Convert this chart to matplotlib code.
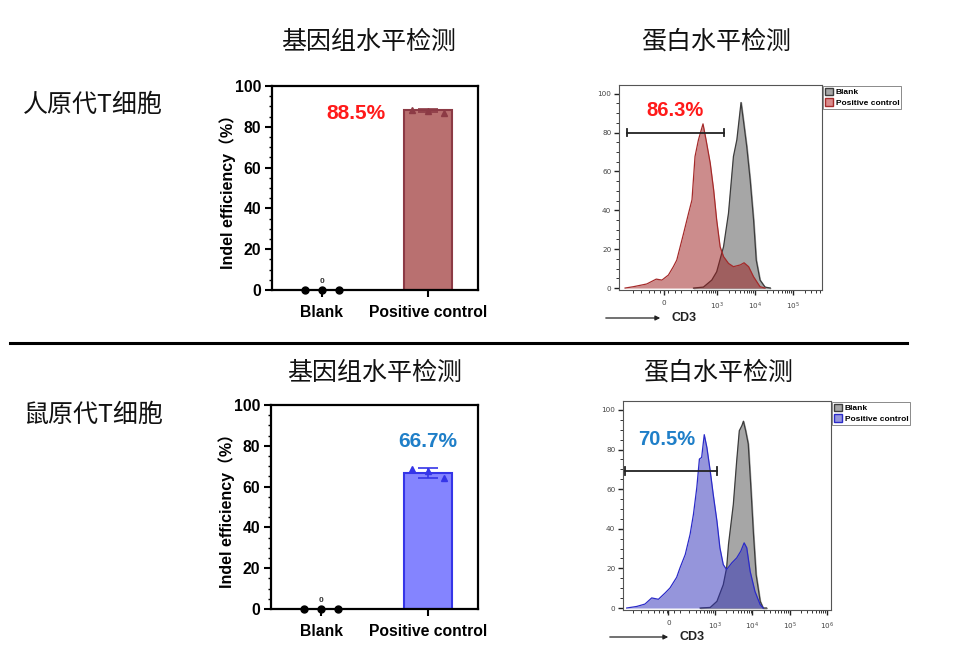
import numpy as np
import matplotlib
matplotlib.use("Agg")
import matplotlib.pyplot as plt
from matplotlib.patches import Patch, FancyArrowPatch
from matplotlib.lines import Line2D
from matplotlib.ticker import MultipleLocator, FixedLocator

# ─── 数据 ─────────────────────────────────────────────
categories = ["Blank", "Positive control"]

# 人原代T细胞 - 基因组水平 (Indel %)
human_blank_pts = [0, 0, 0]
human_pc_mean = 88.2
human_pc_pts = [88.0, 87.6, 86.6]
human_label = "88.5%"

# 鼠原代T细胞 - 基因组水平
mouse_blank_pts = [0, 0, 0]
mouse_pc_mean = 66.7
mouse_pc_pts = [68.5, 67.5, 64.1]
mouse_label = "66.7%"

# 人 CD3 流式直方图 (x: logicle 位置, 10^3 = 3)
human_pc_x = [0.58, 0.80, 1.15, 1.40, 1.55, 1.72, 1.85, 1.94, 2.03, 2.12, 2.25, 2.34,
              2.42, 2.51, 2.63, 2.71, 2.82, 2.91, 2.99, 3.08, 3.17, 3.30, 3.43, 3.61,
              3.71, 3.83, 3.96, 4.13, 4.26]
human_pc_y = [0, 0.7, 2.1, 4.6, 4.1, 6.7, 11, 14.4, 21.3, 28.2, 38.5, 45.4,
              67.7, 76.3, 84.5, 76.3, 64.3, 50.5, 35, 21.3, 16.2, 12.7, 11, 11.9,
              13, 11, 5.8, 0.7, 0]
human_blank_x = [2.38, 2.64, 2.86, 2.99, 3.17, 3.30, 3.43, 3.52, 3.63, 3.69, 3.78,
                 3.87, 3.96, 4.03, 4.13, 4.26, 4.40]
human_blank_y = [0, 0.5, 4.1, 8.4, 21.3, 38.5, 67.7, 76.3, 95.5, 86.6, 72.8,
                 55.7, 35, 14.4, 4.1, 0.5, 0]
human_gate = (0.63, 3.19, 80)
human_cd3_label = "86.3%"

# 鼠 CD3 流式直方图
mouse_pc_x = [0.63, 0.90, 1.12, 1.30, 1.48, 1.66, 1.79, 1.97, 2.06, 2.20, 2.33, 2.42,
              2.51, 2.58, 2.64, 2.71, 2.78, 2.87, 2.95, 3.05, 3.13, 3.22, 3.31, 3.45,
              3.58, 3.69, 3.78, 3.85, 3.94, 4.07, 4.21, 4.29]
mouse_pc_y = [0, 0.8, 2.0, 5.1, 4.4, 7.6, 10.1, 15.5, 20.3, 27, 37.2, 47.3,
              60.8, 75.2, 76.0, 87.5, 81.1, 69.2, 57.4, 43.9, 30.4, 21.9, 19.4, 22.8,
              25.3, 28.7, 32.9, 30.4, 18.6, 8.4, 1.7, 0]
mouse_blank_x = [2.60, 2.87, 3.05, 3.22, 3.31, 3.36, 3.49, 3.58, 3.65, 3.72, 3.76,
                 3.82, 3.89, 3.96, 4.03, 4.10, 4.21, 4.29, 4.38]
mouse_blank_y = [0, 0.3, 3.4, 11.8, 20.3, 32.1, 52.4, 74.3, 89.5, 92.1, 94.3,
                 89.5, 82.8, 60.8, 37.2, 16.9, 3.4, 0, 0]
mouse_gate = (0.59, 3.05, 69)
mouse_cd3_label = "70.5%"

W, H = 960, 655
CJK = ["Noto Sans CJK SC", "DejaVu Sans"]
LAT = ["Liberation Sans", "Noto Sans CJK SC"]

fig = plt.figure(figsize=(W / 100, H / 100), dpi=100)


def ax_px(l, t, r, b):
    """像素框 -> figure 坐标"""
    return fig.add_axes([l / W, (H - b) / H, (r - l) / W, (b - t) / H])


def draw_bar(ax, blank_pts, pc_mean, pc_pts, face, edge, label, label_color, label_xy):
    sd = np.std(pc_pts, ddof=1)
    ax.bar([1], [pc_mean], width=0.45, color=face, edgecolor=edge, linewidth=1.5, zorder=2)
    ax.errorbar([1], [pc_mean], yerr=[sd], color=edge, capsize=7, elinewidth=1.2,
                capthick=1.2, zorder=3)
    ax.plot([1 - 0.15, 1, 1 + 0.15], pc_pts, "^", color=edge, markersize=4, zorder=4)
    ax.plot([-0.16, 0, 0.16], blank_pts, "o", color="black", markersize=5,
            clip_on=False, zorder=5)
    ax.text(0, 4, "0", ha="center", va="center", fontsize=6, fontweight="bold",
            family=LAT, color="#333333")
    ax.text(label_xy[0], label_xy[1], label, ha="center", va="center", fontsize=15,
            fontweight="bold", family=LAT, color=label_color)
    ax.set_xlim(-0.47, 1.47)
    ax.set_ylim(0, 100)
    ax.set_xticks([0, 1])
    ax.set_xticklabels(categories, fontsize=11.3, fontweight="bold", family=LAT)
    ax.set_yticks([0, 20, 40, 60, 80, 100])
    ax.yaxis.set_minor_locator(MultipleLocator(5))
    for t in ax.get_yticklabels():
        t.set_fontsize(11.3)
        t.set_fontweight("bold")
        t.set_family(LAT)
    ax.tick_params(axis="both", which="major", direction="out", length=5, width=1.5, pad=3)
    ax.tick_params(axis="y", which="minor", direction="out", length=2.5, width=1)
    ax.tick_params(axis="x", pad=6)
    for s in ax.spines.values():
        s.set_linewidth(1.6)
    ax.set_ylabel("Indel efficiency（%）", fontsize=11.5, fontweight="bold", family=LAT)
    ax.yaxis.set_label_coords(-0.175, 0.5)


def draw_hist(ax, bx, by, px, py, face, edge, alpha, gate, label, label_color,
              label_xy, xlim, xticks, xticklabels, legend_color, legend_edge):
    ax.fill_between(bx, by, color="#a6a6a6", zorder=1)
    ax.plot(bx, by, color="#3c3c3c", linewidth=0.9, zorder=2)
    ax.fill_between(px, py, color=face, alpha=alpha, zorder=3, linewidth=0)
    ax.plot(px, py, color=edge, linewidth=0.9, zorder=4)
    x0, x1, gy = gate
    ax.plot([x0, x1], [gy, gy], color="#222222", linewidth=1.3, zorder=5)
    for xx in (x0, x1):
        ax.plot([xx, xx], [gy - 2, gy + 2], color="#222222", linewidth=1.3, zorder=5)
    ax.text(label_xy[0], label_xy[1], label, ha="center", va="center", fontsize=14.5,
            fontweight="bold", family=LAT, color=label_color, zorder=6)
    ax.set_xlim(*xlim)
    ax.set_ylim(-1, 104.5)
    ax.set_yticks([0, 20, 40, 60, 80, 100])
    ax.yaxis.set_minor_locator(MultipleLocator(5))
    ax.set_xticks(xticks)
    ax.set_xticklabels(xticklabels)
    minor = []
    for d in range(2, 6):
        minor += [d + np.log10(k) for k in range(2, 10)]
    minor += [0.8, 1.0, 1.2, 1.35, 1.5, 1.6, 1.7, 1.9, 2.05]
    minor = [m for m in minor if xlim[0] < m < xlim[1]]
    ax.xaxis.set_minor_locator(FixedLocator(minor))
    ax.tick_params(axis="both", which="major", direction="out", length=3.5, width=1.0,
                   labelsize=5.2, labelcolor="#444444", color="#222222", pad=2)
    ax.tick_params(axis="both", which="minor", direction="out", length=2, width=0.7,
                   color="#333333")
    ax.tick_params(axis="x", pad=4)
    for s in ax.spines.values():
        s.set_linewidth(0.8)
        s.set_color("#555555")
    handles = [Patch(facecolor="#a6a6a6", edgecolor="#3c3c3c", label="Blank"),
               Patch(facecolor=legend_color, edgecolor=legend_edge, label="Positive control")]
    leg = ax.legend(handles=handles, loc="upper left", bbox_to_anchor=(1.0, 1.0),
                    frameon=True, fancybox=False, borderpad=0.25,
                    handlelength=1.0, handleheight=1.0, handletextpad=0.3,
                    labelspacing=0.2, borderaxespad=0.1,
                    prop={"family": LAT, "weight": "bold", "size": 6})
    leg.get_frame().set_edgecolor("#555555")
    leg.get_frame().set_linewidth(0.6)


# ─── 柱状图 ───────────────────────────────────────────
ax1 = ax_px(272, 86, 478, 290)
draw_bar(ax1, human_blank_pts, human_pc_mean, human_pc_pts, "#b97070", "#8c3a45",
         human_label, "#ff1a1a", (0.32, 86.5))

ax3 = ax_px(271, 405, 478, 609)
draw_bar(ax3, mouse_blank_pts, mouse_pc_mean, mouse_pc_pts, "#8484ff", "#3535e8",
         mouse_label, "#1f7fc8", (1.0, 82))

# ─── 流式直方图 ───────────────────────────────────────
ax2 = ax_px(619, 85, 822, 290)
draw_hist(ax2, human_blank_x, human_blank_y, human_pc_x, human_pc_y,
          "#9a1a1a", "#a52a2a", 0.5, human_gate, human_cd3_label, "#ff1a1a",
          (1.90, 91.5), (0.42, 5.76), [1.61, 3, 4, 5],
          ["0", "$10^3$", "$10^4$", "$10^5$"], "#d98c8c", "#a52a2a")

ax4 = ax_px(623, 401, 831, 610)
draw_hist(ax4, mouse_blank_x, mouse_blank_y, mouse_pc_x, mouse_pc_y,
          "#2d2db9", "#2a2ac8", 0.5, mouse_gate, mouse_cd3_label, "#1f7fc8",
          (1.69, 85), (0.53, 6.11), [1.75, 3, 4, 5, 6],
          ["0", "$10^3$", "$10^4$", "$10^5$", "$10^6$"], "#9696dc", "#2a2ac8")

# CD3 轴标题 + 箭头
for (ax0, ay, tx) in [(603, 318, 672), (607, 637, 680)]:
    fig.add_artist(FancyArrowPatch(
        (ax0 / W, (H - ay) / H), ((tx - 9) / W, (H - ay) / H),
        transform=fig.transFigure, arrowstyle="-|>", mutation_scale=7,
        color="#222222", linewidth=0.9))
    fig.text(tx / W, (H - ay) / H, "CD3", fontsize=9, fontweight="bold",
             family=LAT, color="#222222", ha="left", va="center")

# ─── 标题 ─────────────────────────────────────────────
title_kw = dict(fontsize=18, family=CJK, va="center", color="#111111")
fig.text(369 / W, (H - 42) / H, "基因组水平检测", ha="center", **title_kw)
fig.text(716 / W, (H - 42) / H, "蛋白水平检测", ha="center", **title_kw)
fig.text(375 / W, (H - 373) / H, "基因组水平检测", ha="center", **title_kw)
fig.text(718 / W, (H - 373) / H, "蛋白水平检测", ha="center", **title_kw)
fig.text(23 / W, (H - 105) / H, "人原代T细胞", ha="left", **title_kw)
fig.text(23 / W, (H - 415) / H, "鼠原代T细胞", ha="left", **title_kw)

# 分隔线
fig.add_artist(Line2D([10 / W, 907 / W], [(H - 343) / H] * 2, color="black",
                      linewidth=2.2, transform=fig.transFigure))

fig.savefig("out.png", dpi=100, facecolor="white")
